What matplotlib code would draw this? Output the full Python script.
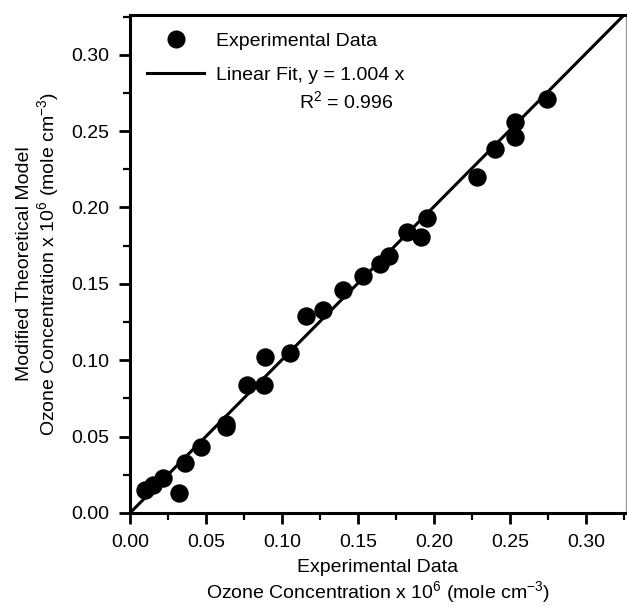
import matplotlib
matplotlib.use('Agg')
import matplotlib.pyplot as plt
import numpy as np
from matplotlib.lines import Line2D
from matplotlib.ticker import MultipleLocator, FormatStrFormatter

plt.rcParams['font.family'] = ['Liberation Sans', 'DejaVu Sans']
plt.rcParams['mathtext.fontset'] = 'custom'
plt.rcParams['mathtext.rm'] = 'Liberation Sans'
plt.rcParams['mathtext.default'] = 'regular'

# experimental vs modified model ozone concentration (x 10^6 mole cm^-3)
experimental = [0.010, 0.015, 0.022, 0.032, 0.036, 0.047, 0.063, 0.063, 0.077, 0.088,
                0.089, 0.105, 0.116, 0.127, 0.140, 0.153, 0.164, 0.170, 0.182, 0.191,
                0.195, 0.228, 0.240, 0.253, 0.253, 0.274]
model = [0.015, 0.018, 0.023, 0.013, 0.033, 0.043, 0.058, 0.056, 0.084, 0.084,
         0.102, 0.105, 0.129, 0.133, 0.146, 0.155, 0.163, 0.168, 0.184, 0.181,
         0.193, 0.220, 0.238, 0.246, 0.256, 0.271]
slope = 1.004
r_squared = 0.996
axis_max = 0.326

fig = plt.figure(figsize=(6.27, 6.06), dpi=100)
ax = fig.add_axes([0.2073, 0.1535, 0.7911, 0.8217])

ax.scatter(experimental, model, s=150, color='black', zorder=3)
fit_x = np.array([0, axis_max])
ax.plot(fit_x, slope * fit_x, color='black', lw=2.2)

ax.set_xlim(0, axis_max)
ax.set_ylim(0, axis_max)
for axis in (ax.xaxis, ax.yaxis):
    axis.set_major_locator(MultipleLocator(0.05))
    axis.set_minor_locator(MultipleLocator(0.025))
    axis.set_major_formatter(FormatStrFormatter('%.2f'))
ax.tick_params(which='major', direction='out', length=8, width=2, labelsize=14, pad=7)
ax.tick_params(which='minor', direction='out', length=5, width=1.6)
ax.tick_params(top=False, right=False)
for side in ('left', 'bottom', 'top'):
    ax.spines[side].set_linewidth(2.2)
ax.spines['right'].set_linewidth(1)
ax.spines['right'].set_color('#999999')

ax.set_xlabel('Experimental Data\nOzone Concentration x 10$^{6}$ (mole cm$^{-3}$)',
              fontsize=14, labelpad=6, linespacing=1.15)
ax.set_ylabel('Modified Theoretical Model\nOzone Concentration x 10$^{6}$ (mole cm$^{-3}$)',
              fontsize=14, labelpad=7, linespacing=1.15)

handles = [
    Line2D([], [], marker='o', color='black', ls='none', markersize=12),
    Line2D([], [], color='black', lw=2.2),
]
ax.legend(handles, ['Experimental Data', 'Linear Fit, y = 1.004 x'],
          loc='upper left', bbox_to_anchor=(0.0, 1.0), frameon=False, fontsize=14,
          handlelength=2.9, handletextpad=0.6, labelspacing=0.85, borderaxespad=0.5)
ax.text(0.532, 0.827, 'R$^{2}$ = %.3f' % r_squared, transform=ax.transAxes,
        fontsize=14, ha='right', va='center')

fig.savefig('out.png', dpi=100)
